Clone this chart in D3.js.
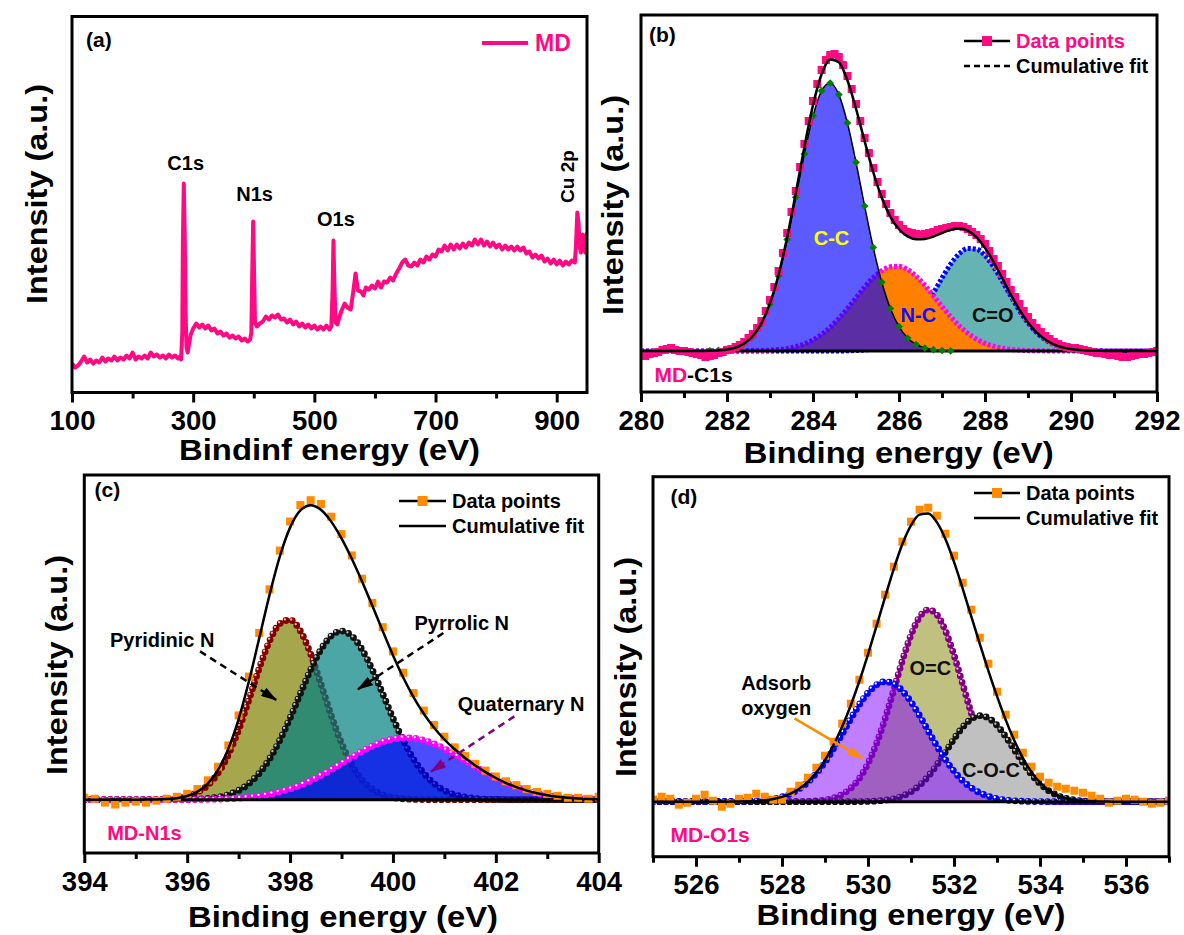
<!DOCTYPE html>
<html>
<head>
<meta charset="utf-8">
<script src="https://cdn.jsdelivr.net/npm/d3@7"></script>
<style>
  body { margin: 0; background: #fff; }
  svg text { font-family: "Liberation Sans", Arial, Helvetica, sans-serif; font-weight: bold; }
</style>
</head>
<body>
<script>
// ---------- data (intensities in arbitrary units) ----------
var surveyData = [
  [100,29],[105,25],[110,27],[115,31],[120,36],[125,30],[130,33],[135,29],[140,32],[145,30],
  [150,35],[155,31],[160,34],[165,32],[170,36],[175,32],[180,35],[185,33],[190,37],[195,34],
  [200,40],[205,33],[210,36],[215,34],[220,37],[225,34],[230,40],[235,36],[240,38],[245,35],
  [250,37],[255,34],[260,38],[265,35],[270,37],[275,34],[278,36],[280,33],[282,60],[283,150],
  [284.5,209],[286,160],[287.5,80],[289,45],[291,40],[293,48],[296,58],[300,64],[305,69],[310,65],
  [315,68],[320,64],[325,67],[330,62],[335,64],[340,59],[345,61],[350,57],[355,59],[360,55],
  [365,57],[370,54],[375,56],[380,52],[385,54],[390,51],[394,53],[396,60],[397.5,120],[399,171],
  [400.5,120],[402,70],[405,66],[410,69],[415,71],[420,76],[425,73],[430,77],[435,75],[440,78],
  [445,73],[450,74],[455,70],[460,73],[465,68],[470,71],[475,66],[480,69],[485,65],[490,68],
  [495,64],[500,67],[505,63],[510,66],[515,63],[520,67],[525,63],[528,66],[530,100],[531.5,152],
  [533,110],[535,70],[538,68],[541,75],[545,82],[550,89],[555,85],[560,83],[564,100],[568,119],
  [572,102],[577,101],[581,97],[585,105],[590,103],[595,107],[600,104],[605,111],[610,105],[615,111],
  [620,110],[625,115],[630,112],[635,119],[640,124],[645,130],[650,133],[655,127],[660,126],[665,130],
  [670,127],[675,133],[680,130],[685,136],[690,133],[695,138],[700,136],[705,143],[710,141],[715,147],
  [720,142],[725,148],[730,143],[735,148],[740,144],[745,149],[750,145],[755,150],[760,147],[765,153],
  [770,148],[775,153],[780,147],[785,151],[790,146],[795,150],[800,145],[805,148],[810,143],[815,147],
  [820,143],[825,146],[830,142],[835,146],[840,142],[845,145],[850,139],[855,141],[860,135],[865,138],
  [870,134],[875,137],[880,131],[885,134],[890,129],[895,133],[900,128],[905,132],[910,127],[915,131],
  [920,128],[925,132],[930,130],[932,150],[934,180],[936,170],[938,145],[940,140],[943,158],[945,150],
  [947,140],[950,160]
];
var surveyPeaks = ["C1s", "N1s", "O1s", "Cu 2p"];

// C1s measured points, 280.0 ... 292.0 eV every 0.1 eV
var c1sDataStart = 280, c1sDataStep = 0.1;
var c1sData = [-4,-5,-3,-2,-1,1,2,3,1,0, 0,-1,-2,-3,-4,-6,-5,-4,-2,-1,
  1,2,4,6,9,13,17,23,30,40, 51,64,80,98,118,139,160,184,207,230,
  250,267,281,291,296,297,294,286,275,262, 247,230,213,198,183,169,157,147,138,131,
  126,122,119,118,117,116,117,118,119,121, 122,123,124,125,125,124,122,119,116,112,
  107,100,92,85,77,69,61,54,47,40, 34,28,23,19,15,12,9,7,5,4,
  3,3,2,1,0,-1,-2,-2,-3,-4, -4,-5,-6,-6,-5,-4,-3,-3,-2,-1, 0];

// C1s fitted components, 280.0 ... 292.0 eV every 0.2 eV
var c1sStart = 280;
var c1sCC = [0,0,0,0,0,0,0,0,0.2,0.6, 1.5,3.5,7.5,14.8,27.4,47.1,75.1,111.5,153.8,197.1,
  234.9,260.2,268,256.4,228.1,188.7,145.0,103.6,68.8,42.5, 24.4,13.0,6.5,3.0,1.3,0.5,0.2,0,0,0,
  0,0,0,0,0,0,0,0,0,0, 0,0,0,0,0,0,0,0,0,0, 0];
var c1sNC = [0,0,0,0,0,0,0,0,0,0, 0,0,0.1,0.2,0.4,0.8,1.4,2.5,4.3,7.0,
  11.0,16.5,23.6,32.4,42.4,53.2,63.8,73.2,80.3,84.3, 84.7,81.4,74.8,65.8,55.3,44.5,34.3,25.3,17.8,12.0,
  7.7,4.8,2.8,1.6,0.9,0.4,0.2,0.1,0,0, 0,0,0,0,0,0,0,0,0,0, 0];
var c1sCO = [0,0,0,0,0,0,0,0,0,0, 0,0,0,0,0,0,0,0,0,0,
  0,0,0,0,0.2,0.5,1.1,2.2,4.1,7.4, 12.6,20.2,30.5,43.3,57.9,73.0,86.8,97.2,102.5,101.9,
  95.4,84.2,70.0,54.9,40.5,28.2,18.5,11.4,6.6,3.6, 1.9,0.9,0.4,0.2,0.1,0,0,0,0,0, 0];
var c1sFit = [0,0,0,0,0,0,0,0,0.2,0.6, 1.5,3.5,7.6,15.0,27.8,47.9,76.5,114.0,158.1,204.1,
  245.9,276.7,291.6,288.8,270.7,242.4,209.9,179.0,153.2,134.2, 121.7,114.6,111.8,112.1,114.5,118.0,121.3,122.5,120.3,113.9,
  103.1,89.0,72.8,56.5,41.4,28.6,18.7,11.5,6.6,3.6, 1.9,0.9,0.4,0.2,0.1,0,0,0,0,0, 0];

// N1s, 394.0 ... 404.0 eV every 0.2 eV
var n1sStart = 394;
var n1sData = [2,1,-3,-5,-3,-2,-3,-1,1,3, 6,11,20,34,56,87,127,172,217,257,
  287,304,309,305,292,274,252,228,203,178, 153,131,110,92,77,65,54,45,37,30,
  24,19,15,11,8,6,4,2,2,1,3];
var n1sPyridinic = [0,0,0,0,0,0,0.1,0.2,0.6,1.4, 3.4,7.5,14.9,27.4,46.4,72.1,103.0,135.4,163.5,181.6,
  185.5,174.2,150.4,119.3,87.1,58.4,36.0,20.4,10.7,5.1, 2.3,0.9,0.3,0.1,0,0,0,0,0,0,
  0,0,0,0,0,0,0,0,0,0,0];
var n1sPyrrolic = [0,0,0,0,0,0,0,0,0,0.1, 0.3,0.6,1.3,2.7,5.2,9.5,16.6,27.2,42.0,61.2,
  84.2,109.4,134.0,154.9,169.0,174,169.0,154.9,134.0,109.4, 84.2,61.2,42.0,27.2,16.6,9.5,5.2,2.7,1.3,0.6,
  0.3,0.1,0,0,0,0,0,0,0,0,0];
var n1sQuaternary = [0,0,0,0,0,0,0,0,0,0.1, 0.1,0.2,0.4,0.6,1.0,1.6,2.5,3.8,5.6,8.0,
  11.0,14.9,19.5,24.9,30.8,37.2,43.6,49.8,55.3,59.7, 62.6,63.9,63.5,61.3,57.6,52.6,46.8,40.4,34.0,27.8,
  22.1,17.1,12.9,9.4,6.7,4.6,3.1,2.0,1.3,0.8,0.5];
var n1sFit = [0,0,0,0,0,0,0.1,0.2,0.6,1.6, 3.8,8.3,16.6,30.7,52.6,83.2,122.1,166.4,211.1,250.8,
  280.7,298.5,303.9,299.1,286.9,269.6,248.6,225.1,200.0,174.2, 149.1,126.0,105.8,88.6,74.2,62.1,52.0,43.1,35.3,28.4,
  22.4,17.2,12.9,9.4,6.7,4.6,3.1,2.0,1.3,0.8,0.5];

// O1s, 525.0 ... 537.0 eV every 0.2 eV
var o1sStart = 525;
var o1sData = [2,5,3,-3,-1,3,7,1,-5,-2, 3,4,8,5,2,2,10,16,24,34,
  46,60,78,98,122,149,178,207,235,260, 280,292,294,286,268,246,219,192,164,138,
  110,87,67,49,35,25,19,15,13,11, 9,6,3,-1,1,3,2,0,-2,-1, 1];
var o1sAdsorb = [0,0,0,0,0,0,0,0,0,0.1, 0.2,0.4,0.8,1.5,2.8,4.8,8.0,12.8,19.5,28.5,
  39.7,53.1,67.8,83.0,97.2,108.9,116.9,120,117.9,110.9, 99.8,86.0,70.9,55.9,42.2,30.5,21.1,14.0,8.9,5.4,
  3.1,1.7,0.9,0.5,0.2,0.1,0,0,0,0, 0,0,0,0,0,0,0,0,0,0, 0];
var o1sOC = [0,0,0,0,0,0,0,0,0,0, 0,0,0,0,0,0,0,0.1,0.3,0.8,
  1.8,3.7,7.3,13.5,23.4,38.2,58.3,83.4,112.0,141.1, 166.7,184.7,192,187.1,171.0,146.6,117.9,88.9,62.9,41.7,
  26.0,15.2,8.3,4.3,2.1,0.9,0.4,0.2,0,0, 0,0,0,0,0,0,0,0,0,0, 0];
var o1sCOC = [0,0,0,0,0,0,0,0,0,0, 0,0,0,0,0,0,0,0,0,0,
  0,0,0,0,0.1,0.3,0.7,1.5,3.0,5.7, 9.9,16.4,25.3,36.6,49.5,62.7,74.4,82.6,86,83.7,
  76.4,65.2,52.2,39.1,27.4,18.0,11.1,6.4,3.4,1.7, 0.8,0.4,0.2,0.1,0,0,0,0,0,0, 0];
var o1sFit = [0,0,0,0,0,0,0,0,0,0.1, 0.2,0.4,0.8,1.5,2.8,4.8,8.0,12.9,19.8,29.3,
  41.5,56.8,75.1,96.5,120.7,147.4,175.9,204.9,232.9,257.7, 276.4,287.1,288.2,279.6,262.7,239.8,213.4,185.5,157.8,130.8,
  105.5,82.1,61.4,43.9,29.7,19.0,11.5,6.6,3.4,1.7, 0.8,0.4,0.2,0.1,0,0,0,0,0,0, 0];

var step = 0.2;
function grid(start, n, s) {
  return d3.range(n).map(function(i) { return +(start + i * s).toFixed(1); });
}
var c1sDataEnergy = grid(c1sDataStart, c1sData.length, c1sDataStep);
var c1sEnergy = grid(c1sStart, c1sCC.length, step);
var n1sEnergy = grid(n1sStart, n1sData.length, step);
var o1sEnergy = grid(o1sStart, o1sData.length, step);

// ---------- drawing ----------
var w = 1184, h = 935;
var pink = "#ff0a82", orange = "#ff8c00";

var svg = d3.select("body").append("svg").attr("width", w).attr("height", h);
var defs = svg.append("defs");

function arrowMarker(id, color) {
  defs.append("marker").attr("id", id)
    .attr("viewBox", "0 0 16 10").attr("markerUnits", "userSpaceOnUse")
    .attr("markerWidth", 16).attr("markerHeight", 10)
    .attr("refX", 15).attr("refY", 5).attr("orient", "auto")
    .append("path").attr("d", "M0,0 L16,5 L0,10 z").attr("fill", color);
}
arrowMarker("arr-black", "#000");
arrowMarker("arr-purple", "#800080");
arrowMarker("arr-orange", orange);

function makePanel(id, box, xDomain, yDomain) {
  var p = { box: box };
  p.x = d3.scaleLinear().domain(xDomain).range([box.left, box.right]);
  p.y = d3.scaleLinear().domain(yDomain).range([box.bottom, box.top]);
  defs.append("clipPath").attr("id", "clip-" + id).append("rect")
    .attr("x", box.left).attr("y", box.top)
    .attr("width", box.right - box.left).attr("height", box.bottom - box.top);
  p.g = svg.append("g");
  p.plot = p.g.append("g").attr("clip-path", "url(#clip-" + id + ")");
  return p;
}

function bottomAxis(p, major, minor) {
  var shift = "translate(0," + p.box.bottom + ")";
  var mi = p.g.append("g").attr("transform", shift)
    .call(d3.axisBottom(p.x).tickValues(minor).tickSize(6).tickFormat(""));
  var ma = p.g.append("g").attr("transform", shift)
    .call(d3.axisBottom(p.x).tickValues(major).tickSize(10).tickPadding(8).tickFormat(d3.format("d")));
  [mi, ma].forEach(function(a) {
    a.select(".domain").remove();
    a.selectAll("line").attr("stroke", "#000").attr("stroke-width", 3);
  });
  ma.attr("font-size", 27.5);
  ma.selectAll("text").attr("fill", "#000");
}

function frame(p) {
  p.g.append("rect")
    .attr("x", p.box.left).attr("y", p.box.top)
    .attr("width", p.box.right - p.box.left).attr("height", p.box.bottom - p.box.top)
    .attr("fill", "none").attr("stroke", "#000").attr("stroke-width", 3);
}

function titles(p, xText, xc, xb, xLen, yb, yc) {
  p.g.append("text").attr("x", xc).attr("y", xb).attr("text-anchor", "middle")
    .attr("font-size", 30).attr("textLength", xLen).attr("lengthAdjust", "spacingAndGlyphs")
    .text(xText);
  p.g.append("text").attr("transform", "translate(" + yb + "," + yc + ") rotate(-90)")
    .attr("text-anchor", "middle").attr("font-size", 30)
    .attr("textLength", 220).attr("lengthAdjust", "spacingAndGlyphs")
    .text("Intensity (a.u.)");
}

function label(g, x, y, txt, size, color, anchor) {
  return g.append("text").attr("x", x).attr("y", y)
    .attr("font-size", size).attr("fill", color || "#000")
    .attr("text-anchor", anchor || "start").text(txt);
}

function lineGen(p, energy) {
  return d3.line().curve(d3.curveMonotoneX)
    .x(function(d, i) { return p.x(energy[i]); })
    .y(function(d) { return p.y(d); });
}
function areaGen(p, energy) {
  return d3.area().curve(d3.curveMonotoneX)
    .x(function(d, i) { return p.x(energy[i]); })
    .y0(p.y(0))
    .y1(function(d) { return p.y(d); });
}

// fitted peak drawn as filled area with a string of shaded beads
function beadPeak(p, energy, values, fill, bead, shine) {
  var line = lineGen(p, energy);
  p.plot.append("path").datum(values).attr("d", areaGen(p, energy)).attr("fill", fill);
  p.plot.append("path").datum(values).attr("d", line)
    .attr("fill", "none").attr("stroke", bead).attr("stroke-width", 1.5);
  p.plot.append("path").datum(values).attr("d", line)
    .attr("fill", "none").attr("stroke", bead).attr("stroke-width", 6.8)
    .attr("stroke-linecap", "round").attr("stroke-dasharray", "0 6.5");
  p.plot.append("path").datum(values).attr("d", line)
    .attr("transform", "translate(-1.1,-1.1)")
    .attr("fill", "none").attr("stroke", shine).attr("stroke-width", 2.3)
    .attr("stroke-linecap", "round").attr("stroke-dasharray", "0 6.5");
}

// fitted peak with a toothed edge (triangle markers)
function toothPeak(p, energy, values, fill, edge) {
  var line = lineGen(p, energy);
  p.plot.append("path").datum(values).attr("d", areaGen(p, energy)).attr("fill", fill);
  p.plot.append("path").datum(values).attr("d", line)
    .attr("fill", "none").attr("stroke", edge).attr("stroke-width", 5)
    .attr("stroke-dasharray", "3 2");
}

function baseline(p) {
  var d = p.x.domain();
  p.plot.append("line")
    .attr("x1", p.x(d[0])).attr("x2", p.x(d[1]))
    .attr("y1", p.y(0)).attr("y2", p.y(0))
    .attr("stroke", "#000").attr("stroke-width", 3);
}

function squares(p, energy, values, color, size) {
  p.plot.append("g").selectAll("rect").data(values).enter().append("rect")
    .attr("x", function(d, i) { return p.x(energy[i]) - size / 2; })
    .attr("y", function(d) { return p.y(d) - size / 2; })
    .attr("width", size).attr("height", size)
    .attr("fill", color);
}

function fitLine(p, energy, values) {
  p.plot.append("path").datum(values).attr("d", lineGen(p, energy))
    .attr("fill", "none").attr("stroke", "#000").attr("stroke-width", 2.5);
}

function legend(p, x1, x2, y1, y2, markColor, textColor, dashed) {
  var g = p.g.append("g");
  g.append("line").attr("x1", x1).attr("x2", x2).attr("y1", y1).attr("y2", y1)
    .attr("stroke", "#000").attr("stroke-width", 2.5);
  g.append("rect").attr("x", (x1 + x2) / 2 - 5).attr("y", y1 - 5)
    .attr("width", 10).attr("height", 10).attr("fill", markColor);
  g.append("line").attr("x1", x1).attr("x2", x2).attr("y1", y2).attr("y2", y2)
    .attr("stroke", "#000").attr("stroke-width", 2.5)
    .attr("stroke-dasharray", dashed ? "6 4" : null);
  label(g, x2 + 6, y1 + 7, "Data points", 20, textColor);
  label(g, x2 + 6, y2 + 7, "Cumulative fit", 20, "#000");
}

function arrow(p, e1, v1, e2, v2, color, marker, dash) {
  p.g.append("line")
    .attr("x1", p.x(e1)).attr("y1", p.y(v1))
    .attr("x2", p.x(e2)).attr("y2", p.y(v2))
    .attr("stroke", color).attr("stroke-width", 2.5)
    .attr("stroke-dasharray", dash ? "7 5" : null)
    .attr("marker-end", "url(#" + marker + ")");
}

// ---- (a) survey ----
var pa = makePanel("a", {left: 72, top: 16.5, right: 587, bottom: 392.5}, [100, 950], [0, 376]);
pa.plot.append("path").datum(surveyData)
  .attr("d", d3.line()
    .x(function(d) { return pa.x(d[0]); })
    .y(function(d) { return pa.y(d[1]); }))
  .attr("fill", "none").attr("stroke", pink).attr("stroke-width", 4)
  .attr("stroke-linejoin", "round");
label(pa.g, pa.x(287.7), pa.y(223), surveyPeaks[0], 20, "#000", "middle");
label(pa.g, pa.x(401.4), pa.y(192), surveyPeaks[1], 20, "#000", "middle");
label(pa.g, pa.x(535.7), pa.y(167), surveyPeaks[2], 20, "#000", "middle");
pa.g.append("text").attr("transform", "translate(" + pa.x(928) + "," + pa.y(216) + ") rotate(-90)")
  .attr("text-anchor", "middle").attr("font-size", 19).text(surveyPeaks[3]);
pa.g.append("line").attr("x1", 482).attr("x2", 528).attr("y1", 43).attr("y2", 43)
  .attr("stroke", pink).attr("stroke-width", 4);
label(pa.g, 535, 51, "MD", 23, pink);
label(pa.g, 86, 47, "(a)", 21);
bottomAxis(pa, [100, 300, 500, 700, 900], [200, 400, 600, 800]);
frame(pa);
titles(pa, "Bindinf energy (eV)", 329.5, 460, 301, 47, 194);

// ---- (b) C1s ----
var pb = makePanel("b", {left: 641, top: 15, right: 1157, bottom: 392}, [280, 292], [-41, 336]);
toothPeak(pb, c1sEnergy, c1sCO, "rgba(0,128,128,0.6)", "#0000ff");
toothPeak(pb, c1sEnergy, c1sNC, "#ff8000", "#ff00ff");
pb.plot.append("path").datum(c1sCC).attr("d", areaGen(pb, c1sEnergy)).attr("fill", "rgba(0,0,255,0.645)");
pb.plot.append("path").datum(c1sCC).attr("d", lineGen(pb, c1sEnergy))
  .attr("fill", "none").attr("stroke", "#000").attr("stroke-width", 1.5);
baseline(pb);
pb.plot.append("g").selectAll("path")
  .data(c1sCC.map(function(v, i) { return [c1sEnergy[i], v]; }).filter(function(d) { return d[1] > 0; }))
  .enter().append("path")
  .attr("d", d3.symbol().type(d3.symbolSquare).size(30))
  .attr("transform", function(d) { return "translate(" + pb.x(d[0]) + "," + pb.y(d[1]) + ") rotate(45)"; })
  .attr("fill", "#008000");
squares(pb, c1sDataEnergy, c1sData, pink, 8);
fitLine(pb, c1sEnergy, c1sFit);
label(pb.g, pb.x(284.43), pb.y(106), "C-C", 20, "#ffff00", "middle");
label(pb.g, pb.x(286.45), pb.y(29.3), "N-C", 20, "#1010f0", "middle");
label(pb.g, pb.x(288.18), pb.y(29.3), "C=O", 20, "#111", "middle");
legend(pb, 964, 1010, 41, 66, pink, pink, true);
label(pb.g, 649, 42, "(b)", 21);
var mdc = label(pb.g, 654.4, 381.7, "", 21);
mdc.append("tspan").attr("fill", pink).text("MD");
mdc.append("tspan").attr("fill", "#000").text("-C1s");
bottomAxis(pb, d3.range(280, 293, 2), d3.range(281, 292, 2));
frame(pb);
titles(pb, "Binding energy (eV)", 898.7, 463, 310, 623, 205);

// ---- (c) N1s ----
var pc = makePanel("c", {left: 84.3, top: 475, right: 598.7, bottom: 853}, [394, 404], [-55, 335]);
beadPeak(pc, n1sEnergy, n1sPyridinic, "rgba(128,128,0,0.7)", "#800000", "#ffb0b0");
beadPeak(pc, n1sEnergy, n1sPyrrolic, "rgba(0,128,128,0.7)", "#111", "#c8c8c8");
beadPeak(pc, n1sEnergy, n1sQuaternary, "rgba(0,0,255,0.7)", "#ff00ff", "#fff");
baseline(pc);
squares(pc, n1sEnergy, n1sData, orange, 8);
fitLine(pc, n1sEnergy, n1sFit);
label(pc.g, pc.x(394.5), pc.y(158), "Pyridinic N", 20);
label(pc.g, pc.x(400.42), pc.y(175), "Pyrrolic N", 20);
label(pc.g, pc.x(401.26), pc.y(91), "Quaternary N", 20);
arrow(pc, 396.25, 153, 397.73, 103, "#000", "arr-black", true);
arrow(pc, 400.98, 172, 399.32, 114, "#000", "arr-black", true);
arrow(pc, 402.36, 86, 400.74, 29, "#800080", "arr-purple", true);
legend(pc, 399, 446, 501, 526, orange, "#000", false);
label(pc.g, 94.5, 497, "(c)", 21);
label(pc.g, 107.2, 840, "MD-N1s", 20, pink);
bottomAxis(pc, d3.range(394, 405, 2), d3.range(395, 404, 2));
frame(pc);
titles(pc, "Binding energy (eV)", 343, 927, 310, 67, 665);

// ---- (d) O1s ----
var pd = makePanel("d", {left: 653, top: 476.7, right: 1169, bottom: 856.7}, [525, 537], [-55, 325]);
beadPeak(pd, o1sEnergy, o1sOC, "#c0c080", "#800080", "#e8b0e8");
beadPeak(pd, o1sEnergy, o1sCOC, "#c0c0c0", "#111", "#c8c8c8");
beadPeak(pd, o1sEnergy, o1sAdsorb, "rgba(128,0,255,0.5)", "#0000ff", "#fff");
baseline(pd);
squares(pd, o1sEnergy, o1sData, orange, 8);
fitLine(pd, o1sEnergy, o1sFit);
label(pd.g, pd.x(527.05), pd.y(111.7), "Adsorb", 20);
label(pd.g, pd.x(527.05), pd.y(86.7), "oxygen", 20);
label(pd.g, pd.x(531.45), pd.y(126.7), "O=C", 20, "#111", "middle");
label(pd.g, pd.x(532.86), pd.y(25), "C-O-C", 20, "#111", "middle");
arrow(pd, 528.29, 83.4, 529.87, 43.4, orange, "arr-orange", false);
legend(pd, 974, 1020, 493, 518, orange, "#000", false);
label(pd.g, 670.4, 504, "(d)", 21);
label(pd.g, 670.4, 841.7, "MD-O1s", 21, pink);
bottomAxis(pd, d3.range(526, 537, 2), d3.range(525, 538, 2));
frame(pd);
titles(pd, "Binding energy (eV)", 911, 925, 309, 636, 667);
</script>
</body>
</html>
